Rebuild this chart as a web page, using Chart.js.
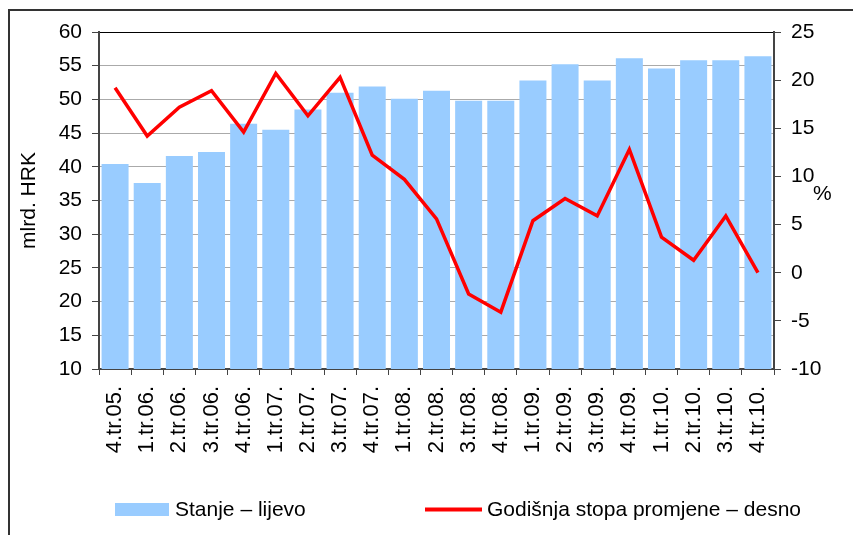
<!DOCTYPE html>
<html><head><meta charset="utf-8">
<script src="https://cdn.jsdelivr.net/npm/chart.js@4.4.0/dist/chart.umd.min.js"></script>
<style>
html,body{margin:0;padding:0;background:#fff;overflow:hidden;width:853px;height:535px;}
#frame{position:absolute;left:8px;top:9px;width:1000px;height:1000px;border-top:2px solid #333;border-left:2px solid #333;}
#wrap{position:absolute;left:0;top:0;width:853px;height:535px;}
</style></head><body>
<div id="frame"></div>
<div id="wrap"><canvas id="c" width="853" height="535"></canvas></div>
<script>
const categories = ["4.tr.05.","1.tr.06.","2.tr.06.","3.tr.06.","4.tr.06.","1.tr.07.","2.tr.07.","3.tr.07.","4.tr.07.","1.tr.08.","2.tr.08.","3.tr.08.","4.tr.08.","1.tr.09.","2.tr.09.","3.tr.09.","4.tr.09.","1.tr.10.","2.tr.10.","3.tr.10.","4.tr.10."];
const stanje = [40.4, 37.6, 41.6, 42.2, 46.4, 45.5, 48.5, 51.0, 51.9, 50.1, 51.3, 49.8, 49.8, 52.8, 55.2, 52.8, 56.1, 54.6, 55.8, 55.8, 56.4];
const stopa = [19.2, 14.2, 17.2, 18.9, 14.6, 20.7, 16.3, 20.3, 12.2, 9.7, 5.6, -2.2, -4.1, 5.4, 7.7, 5.9, 12.8, 3.7, 1.3, 5.9, 0.0];
const seriesNames = ["Stanje \u2013 lijevo", "Godi\u0161nja stopa promjene \u2013 desno"];
const leftAxisTitle = "mlrd. HRK";
const rightAxisTitle = "%";

const FONT = '"Liberation Sans", Arial, sans-serif';
Chart.defaults.font.family = FONT;
Chart.defaults.color = '#000';

const extras = {
  id: 'extras',
  afterDraw(chart) {
    const ctx = chart.ctx;
    const ca = chart.chartArea;
    const y1 = chart.scales.y1;
    ctx.save();
    ctx.fillStyle = '#000';
    ctx.font = '21px ' + FONT;
    ctx.textBaseline = 'middle';
    ctx.textAlign = 'left';
    ctx.fillText(rightAxisTitle, y1.left + 39, (ca.top + ca.bottom) / 2 - 6);
    // legend
    const ds = chart.data.datasets;
    const barDs = ds.find(d => d.type === 'bar');
    const lineDs = ds.find(d => d.type === 'line');
    const ly = 510;
    ctx.fillStyle = barDs.backgroundColor;
    ctx.fillRect(115, 503, 54, 13);
    ctx.fillStyle = '#000';
    ctx.fillText(barDs.label, 175, ly);
    ctx.strokeStyle = lineDs.borderColor;
    ctx.lineWidth = 4;
    ctx.beginPath();
    ctx.moveTo(425, ly - 0.5);
    ctx.lineTo(482, ly - 0.5);
    ctx.stroke();
    ctx.fillText(lineDs.label, 487, ly);
    ctx.restore();
  }
};

new Chart(document.getElementById('c'), {
  type: 'bar',
  data: {
    labels: categories,
    datasets: [
      {
        type: 'line', label: seriesNames[1], data: stopa, yAxisID: 'y1',
        borderColor: '#FF0000', backgroundColor: '#FF0000', borderWidth: 3.5,
        pointRadius: 0, tension: 0, order: 0, borderJoinStyle: 'miter'
      },
      {
        type: 'bar', label: seriesNames[0], data: stanje, yAxisID: 'y',
        backgroundColor: '#99CCFF', borderWidth: 0,
        barPercentage: 0.84, categoryPercentage: 1.0, order: 1
      }
    ]
  },
  options: {
    responsive: false,
    animation: false,
    layout: { padding: { top: 32, left: 0, right: 0, bottom: 66 } },
    plugins: { legend: { display: false }, tooltip: { enabled: false } },
    scales: {
      x: {
        offset: true,
        grid: { offset: true, drawOnChartArea: false, drawTicks: true, tickLength: 6, color: '#444', lineWidth: 1 },
        border: { color: '#444', width: 2 },
        ticks: { minRotation: 90, maxRotation: 90, padding: 11, font: { size: 22 }, color: '#000', autoSkip: false },
        afterFit(s) { s.height = 100; }
      },
      y: {
        position: 'left', min: 10, max: 60,
        ticks: { stepSize: 5, padding: 10, font: { size: 21 }, color: '#000' },
        grid: {
          color: (c) => (c.tick && c.tick.value === 60) ? '#000' : '#aaaaaa',
          tickColor: '#444', tickLength: 7, lineWidth: 1
        },
        border: { color: '#444', width: 2 },
        title: { display: true, text: leftAxisTitle, font: { size: 21 }, color: '#000', padding: { top: 17, bottom: 0 } },
        afterFit(s) { s.width = 99; }
      },
      y1: {
        position: 'right', min: -10, max: 25,
        ticks: { stepSize: 5, padding: 10, font: { size: 21 }, color: '#000' },
        grid: { drawOnChartArea: false, tickColor: '#444', tickLength: 7 },
        border: { color: '#444', width: 2 },
        afterFit(s) { s.width = 79; }
      }
    }
  },
  plugins: [extras]
});
</script>
</body></html>
